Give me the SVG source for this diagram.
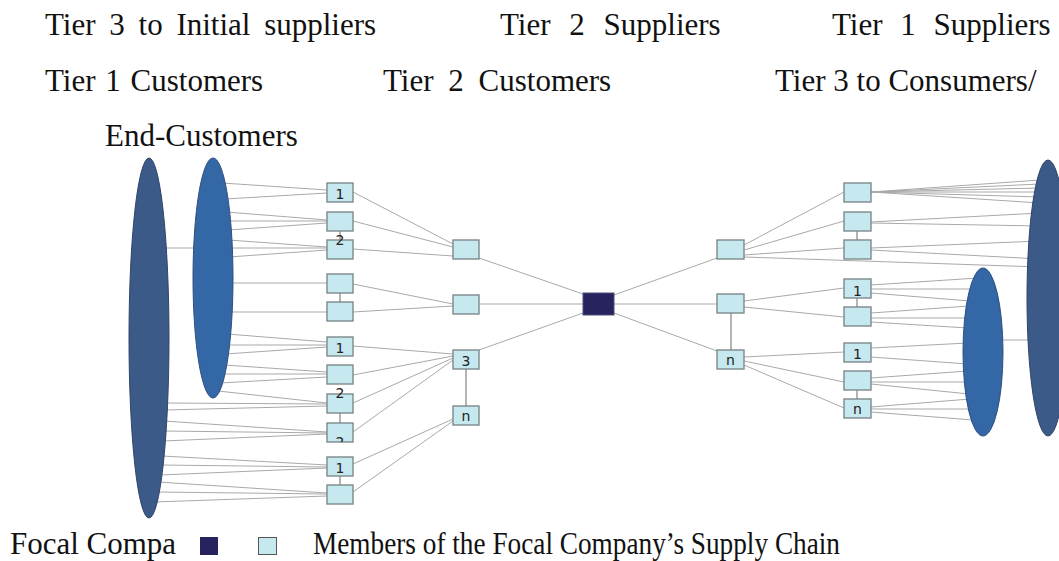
<svg xmlns="http://www.w3.org/2000/svg" width="1059" height="561" viewBox="0 0 1059 561">
<defs>
<style>
.lbl{font-family:"Liberation Serif","Times New Roman",serif;font-size:31px;fill:#111}
.leg{font-family:"Liberation Serif","Times New Roman",serif;font-size:31px;fill:#111}
.num{font-family:"DejaVu Sans","Liberation Sans",sans-serif;font-size:14px;fill:#222;text-anchor:middle}
.box{fill:#c6e8ef;stroke:#7d898c;stroke-width:1.4}
.focal{fill:#27235f;stroke:#4a4f7a;stroke-width:1}
.ln{stroke:#a9a9a9;stroke-width:1;fill:none}
.vl{stroke:#8c8c8c;stroke-width:1.3;fill:none}
.outer{fill:#3c5a87;stroke:#2f4468;stroke-width:1}
.inner{fill:#3467a6;stroke:#2d4f80;stroke-width:1}
</style>
<clipPath id="clipB9"><rect x="327" y="423" width="26" height="19"/></clipPath>
</defs>
<rect width="1059" height="561" fill="#ffffff"/>

<g id="headings">
<text class="lbl" x="45" y="35" word-spacing="6">Tier 3 to Initial suppliers</text>
<text class="lbl" x="500" y="35" word-spacing="11">Tier 2 Suppliers</text>
<text class="lbl" x="832" y="35" word-spacing="10">Tier 1 Suppliers</text>
<text class="lbl" x="45" y="91" word-spacing="2">Tier 1 Customers</text>
<text class="lbl" x="383" y="91" word-spacing="7">Tier 2 Customers</text>
<text class="lbl" x="775" y="91">Tier 3 to Consumers/</text>
<text class="lbl" x="105" y="146">End-Customers</text>
</g>

<g id="connectors">
<line class="ln" x1="165" y1="248" x2="196" y2="248"/>
<line class="ln" x1="1000" y1="340" x2="1034" y2="340"/>
<line class="ln" x1="222" y1="183" x2="327" y2="190"/>
<line class="ln" x1="225" y1="199" x2="327" y2="193"/>
<line class="ln" x1="226" y1="212" x2="327" y2="220"/>
<line class="ln" x1="227" y1="221" x2="327" y2="221"/>
<line class="ln" x1="228" y1="230" x2="327" y2="223"/>
<line class="ln" x1="228" y1="240" x2="327" y2="247"/>
<line class="ln" x1="229" y1="248" x2="327" y2="248"/>
<line class="ln" x1="229" y1="257" x2="327" y2="250"/>
<line class="ln" x1="229" y1="283" x2="327" y2="283"/>
<line class="ln" x1="228" y1="312" x2="327" y2="312"/>
<line class="ln" x1="227" y1="334" x2="327" y2="342"/>
<line class="ln" x1="226" y1="345" x2="327" y2="345"/>
<line class="ln" x1="225" y1="354" x2="327" y2="347"/>
<line class="ln" x1="224" y1="365" x2="327" y2="372"/>
<line class="ln" x1="222" y1="374" x2="327" y2="374"/>
<line class="ln" x1="220" y1="383" x2="327" y2="377"/>
<line class="ln" x1="218" y1="391" x2="327" y2="403"/>
<line class="ln" x1="164" y1="403" x2="327" y2="404"/>
<line class="ln" x1="164" y1="410" x2="327" y2="406"/>
<line class="ln" x1="164" y1="421" x2="327" y2="432"/>
<line class="ln" x1="164" y1="431" x2="327" y2="433"/>
<line class="ln" x1="163" y1="441" x2="327" y2="434"/>
<line class="ln" x1="162" y1="456" x2="327" y2="465"/>
<line class="ln" x1="161" y1="465" x2="327" y2="467"/>
<line class="ln" x1="160" y1="475" x2="327" y2="468"/>
<line class="ln" x1="158" y1="482" x2="327" y2="493"/>
<line class="ln" x1="156" y1="492" x2="327" y2="494"/>
<line class="ln" x1="154" y1="502" x2="327" y2="496"/>
<line class="ln" x1="353" y1="192" x2="453" y2="244"/>
<line class="ln" x1="353" y1="221" x2="453" y2="247"/>
<line class="ln" x1="353" y1="249" x2="453" y2="256"/>
<line class="ln" x1="353" y1="284" x2="453" y2="304"/>
<line class="ln" x1="353" y1="312" x2="453" y2="306"/>
<line class="ln" x1="353" y1="346" x2="453" y2="354"/>
<line class="ln" x1="353" y1="375" x2="453" y2="356"/>
<line class="ln" x1="353" y1="403" x2="453" y2="358"/>
<line class="ln" x1="353" y1="432" x2="453" y2="360"/>
<line class="ln" x1="353" y1="464" x2="453" y2="419"/>
<line class="ln" x1="353" y1="492" x2="453" y2="421"/>
<line class="ln" x1="479" y1="258" x2="583" y2="294"/>
<line class="ln" x1="479" y1="304" x2="583" y2="304"/>
<line class="ln" x1="479" y1="350" x2="583" y2="313"/>
<line class="ln" x1="614" y1="295" x2="717" y2="258"/>
<line class="ln" x1="614" y1="304" x2="717" y2="304"/>
<line class="ln" x1="614" y1="313" x2="717" y2="351"/>
<line class="ln" x1="744" y1="245" x2="844" y2="192"/>
<line class="ln" x1="744" y1="250" x2="844" y2="221"/>
<line class="ln" x1="744" y1="255" x2="844" y2="248"/>
<line class="ln" x1="744" y1="257" x2="1040" y2="267"/>
<line class="ln" x1="744" y1="301" x2="844" y2="288"/>
<line class="ln" x1="744" y1="307" x2="844" y2="317"/>
<line class="ln" x1="744" y1="357" x2="844" y2="352"/>
<line class="ln" x1="744" y1="361" x2="844" y2="382"/>
<line class="ln" x1="744" y1="365" x2="844" y2="408"/>
<line class="ln" x1="871" y1="192" x2="1040" y2="180"/>
<line class="ln" x1="871" y1="192" x2="1040" y2="184"/>
<line class="ln" x1="871" y1="192" x2="1040" y2="188"/>
<line class="ln" x1="871" y1="192" x2="1040" y2="192"/>
<line class="ln" x1="871" y1="192" x2="1040" y2="197"/>
<line class="ln" x1="871" y1="192" x2="1040" y2="203"/>
<line class="ln" x1="871" y1="222" x2="1040" y2="213"/>
<line class="ln" x1="871" y1="223" x2="1040" y2="226"/>
<line class="ln" x1="871" y1="248" x2="1040" y2="241"/>
<line class="ln" x1="871" y1="250" x2="1040" y2="259"/>
<line class="ln" x1="871" y1="285" x2="978" y2="278"/>
<line class="ln" x1="871" y1="289" x2="972" y2="289"/>
<line class="ln" x1="871" y1="293" x2="970" y2="301"/>
<line class="ln" x1="871" y1="313" x2="969" y2="306"/>
<line class="ln" x1="871" y1="318" x2="968" y2="318"/>
<line class="ln" x1="871" y1="322" x2="968" y2="328"/>
<line class="ln" x1="871" y1="348" x2="968" y2="343"/>
<line class="ln" x1="871" y1="357" x2="968" y2="364"/>
<line class="ln" x1="871" y1="378" x2="968" y2="371"/>
<line class="ln" x1="871" y1="382" x2="968" y2="382"/>
<line class="ln" x1="871" y1="384" x2="969" y2="394"/>
<line class="ln" x1="871" y1="407" x2="970" y2="399"/>
<line class="ln" x1="871" y1="409" x2="971" y2="409"/>
<line class="ln" x1="871" y1="412" x2="973" y2="420"/>
<line class="vl" x1="340" y1="230" x2="340" y2="240"/>
<line class="vl" x1="340" y1="293" x2="340" y2="302"/>
<line class="vl" x1="340" y1="413" x2="340" y2="423"/>
<line class="vl" x1="340" y1="476" x2="340" y2="485"/>
<line class="vl" x1="466" y1="369" x2="466" y2="406"/>
<line class="vl" x1="731" y1="313" x2="731" y2="350"/>
<line class="vl" x1="857" y1="231" x2="857" y2="240"/>
<line class="vl" x1="857" y1="298" x2="857" y2="307"/>
<line class="vl" x1="857" y1="390" x2="857" y2="399"/>
</g>

<g id="left-end-customers"><ellipse class="outer" cx="149" cy="338" rx="20" ry="180"/></g>
<g id="left-tier3"><ellipse class="inner" cx="213" cy="278" rx="20" ry="120"/></g>
<g id="right-end-customers"><ellipse class="outer" cx="1048" cy="298" rx="21" ry="138"/></g>
<g id="right-tier3"><ellipse class="inner" cx="983" cy="352" rx="20" ry="84"/></g>

<g id="s1-1"><rect class="box" x="327" y="183" width="26" height="19"/><text class="num" x="340" y="199">1</text></g>
<g id="s1-2"><rect class="box" x="327" y="212" width="26" height="19"/></g>
<g id="s1-3"><rect class="box" x="327" y="240" width="26" height="19"/><text class="num" x="340" y="245">2</text></g>
<g id="s1-4"><rect class="box" x="327" y="274" width="26" height="19"/></g>
<g id="s1-5"><rect class="box" x="327" y="302" width="26" height="19"/></g>
<g id="s1-6"><rect class="box" x="327" y="337" width="26" height="19"/><text class="num" x="340" y="353">1</text></g>
<g id="s1-7"><rect class="box" x="327" y="365" width="26" height="19"/></g>
<g id="s1-8"><rect class="box" x="327" y="394" width="26" height="19"/><text class="num" x="340" y="398">2</text></g>
<g id="s1-9"><rect class="box" x="327" y="423" width="26" height="19"/><text class="num" x="340" y="447" clip-path="url(#clipB9)">2</text></g>
<g id="s1-10"><rect class="box" x="327" y="457" width="26" height="19"/><text class="num" x="340" y="473">1</text></g>
<g id="s1-11"><rect class="box" x="327" y="485" width="26" height="19"/></g>

<g id="s2-1"><rect class="box" x="453" y="240" width="26" height="19"/></g>
<g id="s2-2"><rect class="box" x="453" y="295" width="26" height="19"/></g>
<g id="s2-3"><rect class="box" x="453" y="350" width="26" height="19"/><text class="num" x="466" y="366">3</text></g>
<g id="s2-n"><rect class="box" x="453" y="406" width="26" height="19"/><text class="num" x="466" y="421">n</text></g>

<g id="focal"><rect class="focal" x="583" y="293" width="31" height="22"/></g>

<g id="c2-1"><rect class="box" x="717" y="240" width="27" height="19"/></g>
<g id="c2-2"><rect class="box" x="717" y="294" width="27" height="19"/></g>
<g id="c2-n"><rect class="box" x="717" y="350" width="27" height="19"/><text class="num" x="730.5" y="365">n</text></g>

<g id="c1-1"><rect class="box" x="844" y="183" width="27" height="19"/></g>
<g id="c1-2"><rect class="box" x="844" y="212" width="27" height="19"/></g>
<g id="c1-3"><rect class="box" x="844" y="240" width="27" height="19"/></g>
<g id="c1-4"><rect class="box" x="844" y="279" width="27" height="19"/><text class="num" x="857.5" y="296">1</text></g>
<g id="c1-5"><rect class="box" x="844" y="307" width="27" height="19"/></g>
<g id="c1-6"><rect class="box" x="844" y="343" width="27" height="19"/><text class="num" x="857.5" y="359">1</text></g>
<g id="c1-7"><rect class="box" x="844" y="371" width="27" height="19"/></g>
<g id="c1-8"><rect class="box" x="844" y="399" width="27" height="19"/><text class="num" x="857.5" y="414">n</text></g>

<g id="legend">
<text class="leg" x="10" y="554" textLength="166" lengthAdjust="spacingAndGlyphs">Focal Compa</text>
<rect x="200" y="537" width="18" height="18" fill="#27235f"/>
<rect x="258.5" y="537.5" width="18" height="17" fill="#c6e8ef" stroke="#555" stroke-width="1"/>
<text class="leg" x="313" y="554" textLength="527" lengthAdjust="spacingAndGlyphs">Members of the Focal Company’s Supply Chain</text>
</g>
</svg>
